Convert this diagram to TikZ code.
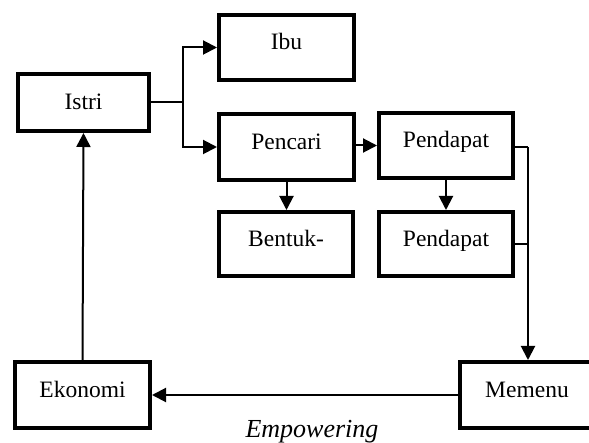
\documentclass[tikz,border=0pt]{standalone}
\usepackage{fontspec}
\setmainfont{Liberation Serif}
\usetikzlibrary{arrows.meta}
\tikzset{
  box/.style={draw, line width=4pt, rectangle, inner sep=0pt, align=center,
    font=\fontsize{23.5}{28}\selectfont, text height=16pt, text depth=11pt},
  onebox/.style={box, text depth=2pt},
  conn/.style={line width=2pt, -{Triangle[length=14pt,width=14pt]}},
  plain/.style={line width=2pt}
}
\begin{document}
\begin{tikzpicture}[x=1pt,y=-1pt]
\useasboundingbox (0,0) rectangle (589,443);
\clip (0,0) rectangle (589,443);
\node[onebox, minimum width=131pt, minimum height=57pt] (istri) at (83.5,102.5) {Istri};
\node[box, minimum width=135pt, minimum height=65pt] (ibu) at (286.5,47.5) {Ibu};
\node[box, minimum width=135pt, minimum height=66pt] (pencari) at (286.5,147) {Pencari};
\node[box, minimum width=134pt, minimum height=65pt] (pend1) at (446,145.5) {Pendapat};
\node[box, minimum width=134pt, minimum height=64pt] (bentuk) at (286,244) {Bentuk-};
\node[box, minimum width=134pt, minimum height=64pt] (pend2) at (446,244) {Pendapat};
\node[box, minimum width=135pt, minimum height=66pt] (ekonomi) at (82.5,395) {Ekonomi};
\node[box, minimum width=134pt, minimum height=66pt] (memenu) at (527,395) {Memenu};
\node[font=\fontsize{26}{30}\selectfont\itshape, inner sep=0pt, anchor=base] (emp) at (312,437) {Empowering};

\coordinate (j) at (182.5,102.5);
\draw[plain] (istri.east) -- (j);
\draw[conn] (j) |- (ibu.west);
\draw[conn] (j) |- (pencari.west);
\draw[conn] (pend1.west -| pencari.east) -- (pend1.west);
\draw[conn] (pencari.south) -- (pencari.south |- bentuk.north);
\draw[conn] (pend1.south) -- (pend2.north);
\coordinate (v) at (528,147);
\draw[plain] (pend1.east |- v) -- (v);
\draw[conn] (v) -- (v |- memenu.north);
\draw[plain] (pend2.east) -- (pend2.east -| v);
\draw[conn] (memenu.west) -- (ekonomi.east);
\draw[conn] (ekonomi.north) -- (istri.south);
\end{tikzpicture}
\end{document}
